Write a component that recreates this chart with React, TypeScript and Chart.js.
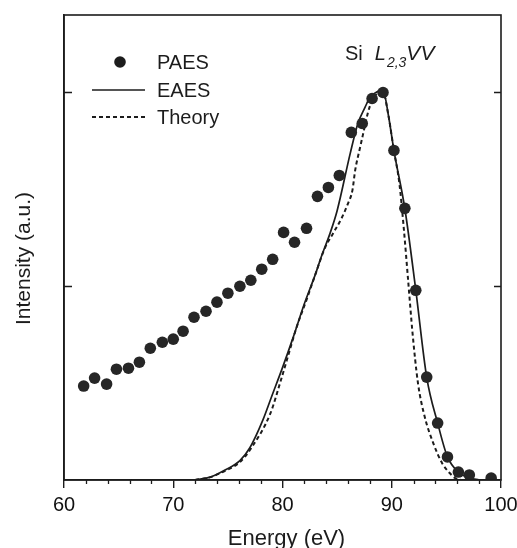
import React, { useEffect, useRef } from "react";
import { Chart, registerables } from "chart.js";

Chart.register(...registerables);

// PAES data points (energy in eV, intensity in a.u.)
const paesEnergy = [61.8, 62.8, 63.9, 64.8, 65.9, 66.9, 67.9, 69.0, 70.0, 70.9, 71.9, 73.0, 74.0, 75.0, 76.1, 77.1, 78.1, 79.1, 80.1, 81.1, 82.2, 83.2, 84.2, 85.2, 86.3, 87.3, 88.2, 89.2, 90.2, 91.2, 92.2, 93.2, 94.2, 95.1, 96.1, 97.1, 99.1];
const paesIntensity = [0.485, 0.526, 0.495, 0.572, 0.577, 0.608, 0.68, 0.711, 0.727, 0.768, 0.84, 0.871, 0.918, 0.964, 1.0, 1.031, 1.088, 1.139, 1.278, 1.227, 1.299, 1.464, 1.51, 1.572, 1.794, 1.84, 1.969, 2.0, 1.701, 1.402, 0.979, 0.531, 0.294, 0.119, 0.041, 0.026, 0.01];

// EAES solid curve
const eaesEnergy = [72.0, 73.4, 74.7, 76.1, 77.0, 78.2, 79.0, 80.0, 81.0, 82.0, 83.0, 83.6, 84.35, 85.0, 86.2, 86.9, 87.55, 88.0, 88.7, 89.2, 89.7, 90.2, 91.2, 92.2, 93.2, 94.2, 95.1, 96.1, 97.2, 98.0];
const eaesIntensity = [0, 0.015, 0.05, 0.1, 0.165, 0.309, 0.43, 0.58, 0.74, 0.91, 1.06, 1.16, 1.273, 1.39, 1.686, 1.84, 1.923, 1.974, 2.005, 2.01, 1.88, 1.7, 1.4, 0.98, 0.53, 0.294, 0.119, 0.041, 0.01, 0];

// Theory dashed curve
const theoryEnergy = [72.0, 73.4, 74.7, 76.1, 77.2, 78.9, 79.8, 80.4, 81.3, 82.2, 83.0, 83.9, 84.6, 85.45, 86.0, 86.4, 86.65, 87.1, 87.45, 87.8, 88.2, 88.7, 89.2, 89.7, 90.2, 90.7, 91.1, 91.5, 91.9, 92.4, 93.0, 93.8, 94.6, 95.3, 95.8, 96.4];
const theoryIntensity = [0, 0.015, 0.046, 0.093, 0.17, 0.345, 0.505, 0.619, 0.79, 0.93, 1.06, 1.2, 1.27, 1.356, 1.428, 1.495, 1.598, 1.716, 1.804, 1.892, 1.959, 1.995, 2.0, 1.88, 1.7, 1.53, 1.3, 1.03, 0.76, 0.5, 0.33, 0.19, 0.088, 0.036, 0.01, 0];

const xMin = 60;
const xMax = 100;
const xMajorStep = 10;
const xMinorStep = 2;
const yMin = 0;
const yMax = 2.4;
const yTickValues = [1, 2];

const seriesLabels = ["PAES", "EAES", "Theory"];
const xTitle = "Energy (eV)";
const yTitle = "Intensity (a.u.)";

const FONT = '"Liberation Sans", Arial, Helvetica, sans-serif';
const INK = "#1c1c1c";

const toPoints = (xs: number[], ys: number[]) => xs.map((x, i) => ({ x, y: ys[i] }));

export default function App() {
  const canvasRef = useRef<HTMLCanvasElement | null>(null);

  useEffect(() => {
    const canvas = canvasRef.current;
    if (!canvas) return;

    const overlay = {
      id: "overlay",
      afterDraw(chart: any) {
        const { ctx, chartArea: a, scales } = chart;
        const xs = scales.x;
        const ys = scales.y;
        ctx.save();
        ctx.strokeStyle = INK;
        ctx.fillStyle = INK;

        // frame
        ctx.lineWidth = 1.6;
        ctx.strokeRect(a.left, a.top, a.right - a.left, a.bottom - a.top);

        // minor x ticks
        ctx.lineWidth = 1.3;
        for (let v = xMin + xMinorStep; v < xMax; v += xMinorStep) {
          if (v % xMajorStep === 0) continue;
          const px = Math.round(xs.getPixelForValue(v)) + 0.5;
          ctx.beginPath();
          ctx.moveTo(px, a.bottom - 1);
          ctx.lineTo(px, a.bottom + 4);
          ctx.stroke();
        }

        // inward y ticks on left and right
        for (const v of yTickValues) {
          const py = Math.round(ys.getPixelForValue(v)) + 0.5;
          ctx.beginPath();
          ctx.moveTo(a.left, py);
          ctx.lineTo(a.left + 8, py);
          ctx.moveTo(a.right, py);
          ctx.lineTo(a.right - 7, py);
          ctx.stroke();
        }

        // axis titles
        ctx.textAlign = "center";
        ctx.textBaseline = "alphabetic";
        ctx.font = `22px ${FONT}`;
        ctx.fillText(xTitle, (a.left + a.right) / 2 + 4, 545);
        ctx.save();
        ctx.translate(30, (a.top + a.bottom) / 2 + 11);
        ctx.rotate(-Math.PI / 2);
        ctx.font = `21px ${FONT}`;
        ctx.fillText(yTitle, 0, 0);
        ctx.restore();

        // legend
        const lx = a.left;
        ctx.textAlign = "left";
        ctx.font = `20px ${FONT}`;
        ctx.beginPath();
        ctx.arc(lx + 56, a.top + 47, 5.8, 0, Math.PI * 2);
        ctx.fill();
        ctx.fillText(seriesLabels[0], lx + 93, a.top + 54);
        ctx.lineWidth = 1.7;
        ctx.beginPath();
        ctx.moveTo(lx + 28, a.top + 75);
        ctx.lineTo(lx + 81, a.top + 75);
        ctx.stroke();
        ctx.fillText(seriesLabels[1], lx + 93, a.top + 82);
        ctx.lineWidth = 2;
        ctx.setLineDash([4, 3]);
        ctx.beginPath();
        ctx.moveTo(lx + 28, a.top + 102);
        ctx.lineTo(lx + 81, a.top + 102);
        ctx.stroke();
        ctx.setLineDash([]);
        ctx.fillText(seriesLabels[2], lx + 93, a.top + 109);

        // panel title: Si L_{2,3}VV
        let tx = a.left + 281;
        const tb = a.top + 45;
        ctx.font = `20px ${FONT}`;
        ctx.fillText("Si", tx, tb);
        tx += ctx.measureText("Si").width + 12;
        ctx.font = `italic 20px ${FONT}`;
        ctx.fillText("L", tx, tb);
        tx += ctx.measureText("L").width + 1;
        ctx.font = `italic 14px ${FONT}`;
        ctx.fillText("2,3", tx, tb + 7);
        tx += ctx.measureText("2,3").width;
        ctx.font = `italic 21px ${FONT}`;
        ctx.fillText("VV", tx, tb);

        ctx.restore();
      },
    };

    const chart = new Chart(canvas, {
      type: "scatter",
      data: {
        datasets: [
          {
            label: seriesLabels[0],
            data: toPoints(paesEnergy, paesIntensity),
            showLine: false,
            pointRadius: 5.8,
            pointHoverRadius: 5.8,
            pointBackgroundColor: "#262626",
            pointBorderWidth: 0,
            backgroundColor: "#262626",
          },
          {
            label: seriesLabels[1],
            data: toPoints(eaesEnergy, eaesIntensity),
            showLine: true,
            pointRadius: 0,
            borderColor: INK,
            borderWidth: 1.7,
            cubicInterpolationMode: "monotone",
          },
          {
            label: seriesLabels[2],
            data: toPoints(theoryEnergy, theoryIntensity),
            showLine: true,
            pointRadius: 0,
            borderColor: INK,
            borderWidth: 2,
            borderDash: [4, 3],
            cubicInterpolationMode: "monotone",
          },
        ],
      },
      options: {
        animation: false,
        responsive: false,
        devicePixelRatio: 1,
        layout: { padding: { top: 15, right: 16, left: 0, bottom: 0 } },
        plugins: { legend: { display: false }, tooltip: { enabled: false } },
        scales: {
          x: {
            type: "linear",
            position: "bottom",
            min: xMin,
            max: xMax,
            ticks: {
              stepSize: xMajorStep,
              autoSkip: false,
              maxRotation: 0,
              padding: 5,
              color: "#111",
              font: { size: 20, family: FONT },
            },
            grid: { drawOnChartArea: false, tickLength: 8, color: INK, lineWidth: 1.4 },
            border: { display: true, color: INK, width: 1.6 },
            afterFit: (s: any) => {
              s.height = 68;
              s.paddingLeft = 0;
              s.paddingRight = 0;
            },
          },
          y: {
            type: "linear",
            min: yMin,
            max: yMax,
            ticks: { display: false },
            grid: { display: false },
            border: { display: true, color: INK, width: 1.6 },
            afterFit: (s: any) => {
              s.width = 64;
              s.paddingTop = 0;
              s.paddingBottom = 0;
            },
          },
        },
      },
      plugins: [overlay],
    } as any);

    return () => chart.destroy();
  }, []);

  return (
    <div style={{ position: "fixed", left: 0, top: 0, width: 517, height: 548, background: "#fff" }}>
      <canvas ref={canvasRef} width={517} height={548} style={{ display: "block" }} />
    </div>
  );
}
